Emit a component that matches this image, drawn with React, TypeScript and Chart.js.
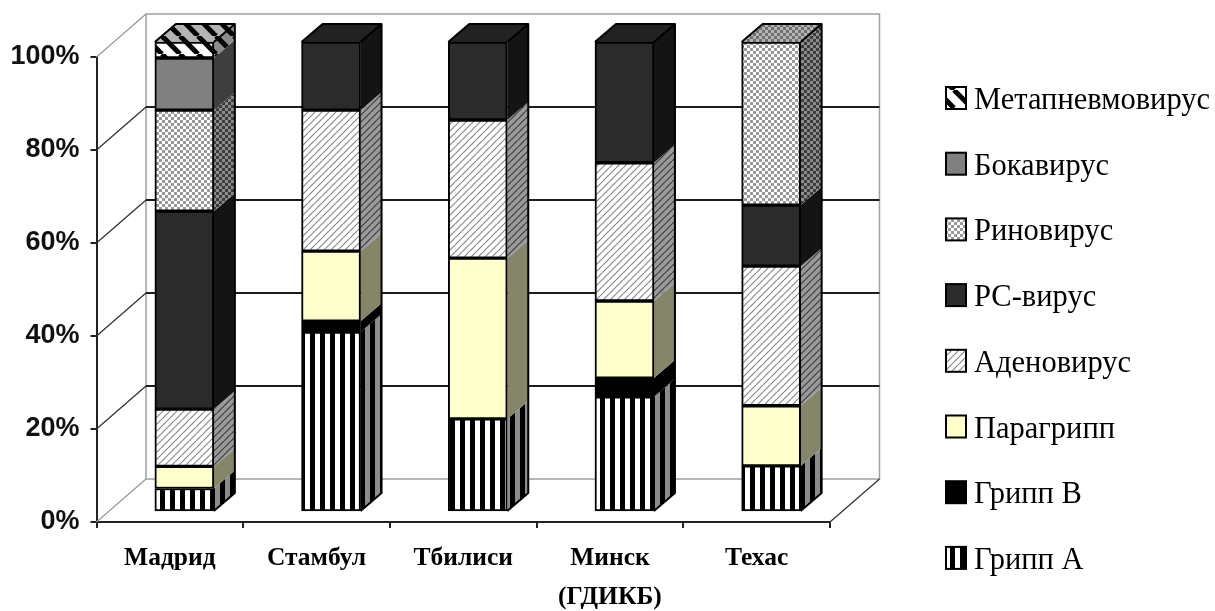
import React, { useEffect, useRef } from "react";
import { Chart, registerables } from "chart.js";

Chart.register(...registerables);

const categories = ["Мадрид", "Стамбул", "Тбилиси", ["Минск", "(ГДИКБ)"], "Техас"];
const gripA = [5, 38.3, 19.8, 24.5, 9.8];
const gripB = [null, 2.3, null, 4, null];
const paragrip = [4.7, 14.9, 34.2, 16.4, 12.8];
const adeno = [12.2, 30, 29.4, 29.4, 29.7];
const rs = [42.1, 14.5, 16.6, 25.7, 13];
const rhino = [21.5, null, null, null, 34.7];
const boka = [11.1, null, null, null, null];
const meta = [3.4, null, null, null, null];
const yTicks = [0, 20, 40, 60, 80, 100];

const W = 1215, H = 611;
const AREA = { left: 96.5, right: 830, top: 57, bottom: 522 };
const WALL = { dx: 49.5, dy: -43 };
const BAR_DEPTH = { dx: 21, dy: -18 };
const BAR_SHIFT = 14.5;
const BAR_BASE = 512;
const BAR_SCALE = 470 / 465;
const SERIF = '"Liberation Serif", serif';
const SANS = '"Liberation Sans", sans-serif';

type Paint = (c: CanvasRenderingContext2D, s: number) => void;
function tile(size: number, bg: string, paint: Paint): CanvasPattern {
  const cv = document.createElement("canvas");
  cv.width = size; cv.height = size;
  const c = cv.getContext("2d")!;
  c.fillStyle = bg; c.fillRect(0, 0, size, size);
  paint(c, size);
  return c.createPattern(cv, "repeat")!;
}
const stripesV = (bg: string) => tile(10, bg, (c) => { c.fillStyle = "#000"; c.fillRect(0, 0, 5, 10); });
const hatch = (bg: string, fg: string) => tile(7, bg, (c, s) => {
  c.strokeStyle = fg; c.lineWidth = 1.2;
  for (const o of [-s, 0, s]) { c.beginPath(); c.moveTo(o, s); c.lineTo(o + s, 0); c.stroke(); }
});
const checks = (bg: string, fg: string) => tile(6, bg, (c) => {
  c.fillStyle = fg; c.fillRect(0, 0, 3, 3); c.fillRect(3, 3, 3, 3);
});
const wide = (bg: string) => tile(18, bg, (c, s) => {
  c.strokeStyle = "#000"; c.lineWidth = 5;
  for (const o of [-s, 0, s]) { c.beginPath(); c.moveTo(o, 0); c.lineTo(o + s, s); c.stroke(); }
});

function box3d(ctx: CanvasRenderingContext2D, pts: number[][], fill: any) {
  ctx.beginPath();
  pts.forEach((p, i) => (i ? ctx.lineTo(p[0], p[1]) : ctx.moveTo(p[0], p[1])));
  ctx.closePath();
  ctx.fillStyle = fill;
  ctx.fill();
}

const threeD = {
  id: "threeD",
  afterDatasetsUpdate(chart: any) {
    const { bottom } = chart.chartArea;
    chart.data.datasets.forEach((_: any, i: number) => {
      chart.getDatasetMeta(i).data.forEach((el: any) => {
        el.x += BAR_SHIFT;
        el.y = BAR_BASE - (bottom - el.y) * BAR_SCALE;
        el.base = BAR_BASE - (bottom - el.base) * BAR_SCALE;
      });
    });
  },
  beforeDatasetsDraw(chart: any) {
    const { ctx, chartArea: a, scales } = chart;
    const { dx, dy } = WALL;
    ctx.save();
    ctx.lineWidth = 1.5;
    ctx.strokeStyle = "#a0a0a0";
    ctx.strokeRect(a.left + dx, a.top + dy, a.right - a.left, a.bottom - a.top);
    for (const v of yTicks) {
      const y = scales.y.getPixelForValue(v);
      const inner = v > 0 && v < 100;
      ctx.strokeStyle = inner ? "#1c1c1c" : "#a0a0a0";
      ctx.lineWidth = inner ? 2 : 1.5;
      ctx.beginPath();
      if (inner) { ctx.moveTo(a.left + dx, y + dy); ctx.lineTo(a.right + dx, y + dy); ctx.stroke(); ctx.beginPath(); }
      ctx.lineWidth = 1.3;
      ctx.strokeStyle = inner ? "#333" : "#999";
      ctx.moveTo(a.left, y);
      ctx.lineTo(a.left + dx, y + dy);
      ctx.stroke();
    }
    ctx.strokeStyle = "#333";
    ctx.beginPath();
    ctx.moveTo(a.right, a.bottom);
    ctx.lineTo(a.right + dx, a.bottom + dy);
    ctx.stroke();

    // side and top faces of every column
    const n = chart.data.labels.length;
    for (let k = 0; k < n; k++) {
      let xl = 0, xr = 0, low = -Infinity, high = 0, topFill: any = null;
      chart.data.datasets.forEach((ds: any, i: number) => {
        if (ds.data[k] == null) return;
        const el = chart.getDatasetMeta(i).data[k];
        xl = el.x - el.width / 2; xr = el.x + el.width / 2;
        box3d(ctx, [
          [xr, el.y], [xr + BAR_DEPTH.dx, el.y + BAR_DEPTH.dy],
          [xr + BAR_DEPTH.dx, el.base + BAR_DEPTH.dy], [xr, el.base],
        ], ds.sideFill);
        low = Math.max(low, el.base);
        high = el.y;
        topFill = ds.topFill;
      });
      box3d(ctx, [
        [xl, high], [xl + BAR_DEPTH.dx, high + BAR_DEPTH.dy],
        [xr + BAR_DEPTH.dx, high + BAR_DEPTH.dy], [xr, high],
      ], topFill);
      ctx.strokeStyle = "#000";
      ctx.lineWidth = 2;
      ctx.lineJoin = "round";
      ctx.beginPath();
      ctx.moveTo(xl, high);
      ctx.lineTo(xl + BAR_DEPTH.dx, high + BAR_DEPTH.dy);
      ctx.lineTo(xr + BAR_DEPTH.dx, high + BAR_DEPTH.dy);
      ctx.lineTo(xr + BAR_DEPTH.dx, low + BAR_DEPTH.dy);
      ctx.lineTo(xr, low);
      ctx.moveTo(xr, high);
      ctx.lineTo(xr + BAR_DEPTH.dx, high + BAR_DEPTH.dy);
      ctx.stroke();
    }
    ctx.restore();
  },
  afterDraw(chart: any) {
    const { ctx } = chart;
    const items = [...chart.data.datasets].reverse();
    ctx.save();
    items.forEach((ds: any, i: number) => {
      const y = 98 + i * 65.7;
      ctx.fillStyle = ds.backgroundColor;
      ctx.fillRect(946, y - 11, 20, 22);
      ctx.strokeStyle = "#000";
      ctx.lineWidth = 2;
      ctx.strokeRect(946, y - 11, 20, 22);
      ctx.fillStyle = "#000";
      ctx.font = `30.5px ${SERIF}`;
      ctx.textBaseline = "middle";
      ctx.textAlign = "left";
      ctx.fillText(ds.label, 974, y + 3);
    });
    ctx.restore();
  },
};

export default function App() {
  const ref = useRef<HTMLCanvasElement>(null);
  useEffect(() => {
    const mk = (label: string, data: any[], backgroundColor: any, sideFill: any, topFill: any) => ({
      label, data, backgroundColor, sideFill, topFill,
      borderColor: "#000", borderWidth: 2, borderSkipped: false, barThickness: 59, clip: false,
    });
    const chart = new Chart(ref.current!, {
      type: "bar",
      data: {
        labels: categories as any,
        datasets: [
          mk("Грипп А", gripA, stripesV("#ffffff"), stripesV("#8c8c8c"), stripesV("#b0b0b0")),
          mk("Грипп В", gripB, "#000000", "#000000", "#000000"),
          mk("Парагрипп", paragrip, "#ffffcc", "#85856a", "#c0c09a"),
          mk("Аденовирус", adeno, hatch("#ffffff", "#8a8a8a"), hatch("#9a9a9a", "#3c3c3c"), hatch("#c0c0c0", "#555")),
          mk("РС-вирус", rs, "#2b2b2b", "#141414", "#222222"),
          mk("Риновирус", rhino, checks("#ffffff", "#9a9a9a"), checks("#8c8c8c", "#3c3c3c"), checks("#b4b4b4", "#707070")),
          mk("Бокавирус", boka, "#808080", "#3e3e3e", "#606060"),
          mk("Метапневмовирус", meta, wide("#ffffff"), wide("#8c8c8c"), wide("#b4b4b4")),
        ] as any,
      },
      plugins: [threeD] as any,
      options: {
        animation: false,
        responsive: false,
        devicePixelRatio: 1,
        layout: { padding: { left: 0, right: W - AREA.right, top: AREA.top, bottom: 0 } },
        plugins: { legend: { display: false }, tooltip: { enabled: false } },
        scales: {
          x: {
            stacked: true,
            afterFit: (s: any) => { s.height = H - AREA.bottom; },
            border: { display: true, color: "#222", width: 2 },
            grid: { offset: true, drawOnChartArea: false, drawTicks: true, tickLength: 6, color: "#222", lineWidth: 2 },
            ticks: {
              color: "#000", maxRotation: 0, autoSkip: false, padding: 11,
              font: { family: SERIF, size: 25.5, weight: "bold", lineHeight: "39px" },
            },
          },
          y: {
            stacked: true,
            min: 0, max: 100,
            afterFit: (s: any) => { s.width = AREA.left; },
            afterBuildTicks: (s: any) => { s.ticks = yTicks.map((value) => ({ value })); },
            border: { display: true, color: "#222", width: 2 },
            grid: { drawOnChartArea: false, drawTicks: true, tickLength: 6, color: "#222", lineWidth: 2 },
            ticks: {
              color: "#111", padding: 11,
              font: { family: SANS, size: 27, weight: "bold" },
              callback: (v: any) => `${v}%`,
            },
          },
        },
      } as any,
    });
    return () => chart.destroy();
  }, []);
  return (
    <div style={{ position: "fixed", left: 0, top: 0, width: W, height: H, background: "#fff" }}>
      <canvas ref={ref} width={W} height={H} style={{ display: "block" }} />
    </div>
  );
}
